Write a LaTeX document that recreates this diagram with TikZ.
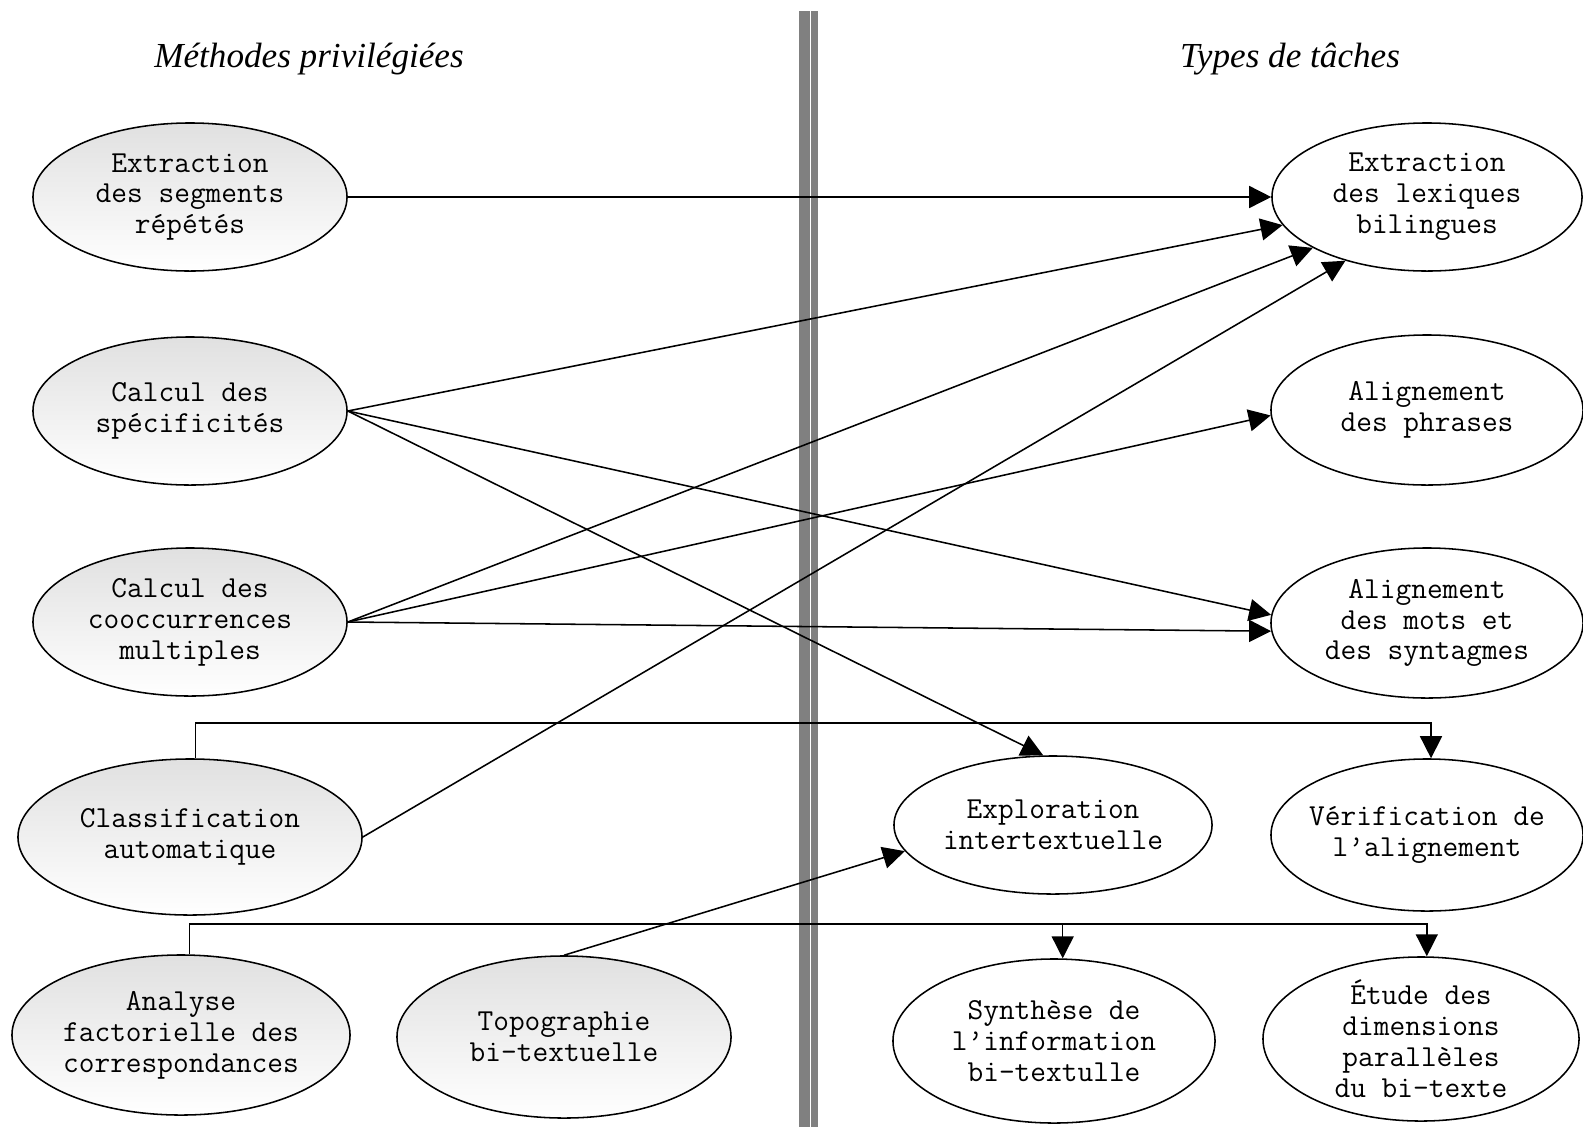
\documentclass[tikz,border=0pt]{standalone}
\usepackage{fontspec}
\setmainfont{Liberation Serif}
\usetikzlibrary{arrows.meta, shapes.geometric}

\newcommand{\monotext}{\ttfamily\fontsize{21.7pt}{22pt}\selectfont}
\newcommand{\titretext}{\itshape\fontsize{25pt}{30pt}\selectfont}
\definecolor{divgris}{RGB}{128,128,128}

\begin{document}
\begin{tikzpicture}[
		x=0.025cm, y=-0.025cm,
		>={Triangle[length=0.55cm, width=0.55cm]},
		methode/.style={ellipse, draw, line width=1.1pt, top color=black!12, bottom color=white, align=center, inner sep=0pt, font=\monotext},
		tache/.style={ellipse, draw, line width=1.1pt, fill=white, align=center, inner sep=0pt, font=\monotext},
		titre/.style={font=\titretext},
		fleche/.style={->, line width=1.1pt}
		]
		\useasboundingbox (0,0) rectangle (1583,1127);
		
		% Separation bar
		\fill[divgris] (799,11) rectangle (809.5,1127);
		\fill[divgris] (811,11) rectangle (817.5,1127);
		
		% Titles
		\node[titre] (titreM) at (309,59) {Méthodes privilégiées};
		\node[titre] (titreT) at (1290,59) {Types de tâches};
		
		% Methods (left)
		\node[methode, minimum width=7.85cm, minimum height=3.7cm] (seg) at (190,197) {Extraction\\des segments\\répétés};
		\node[methode, minimum width=7.85cm, minimum height=3.7cm] (spec) at (190,411) {Calcul des\\spécificités};
		\node[methode, minimum width=7.85cm, minimum height=3.7cm] (cooc) at (190,622) {Calcul des\\cooccurrences\\multiples};
		\node[methode, minimum width=8.6cm, minimum height=3.9cm] (classif) at (190,837) {Classification\\automatique};
		\node[methode, minimum width=8.45cm, minimum height=4cm, inner xsep=-1pt] (afc) at (181,1035) {Analyse\\factorielle des\\correspondances};
		\node[methode, minimum width=8.35cm, minimum height=4.05cm] (topo) at (564,1037) {Topographie\\bi-textuelle};
		
		% Tasks (right)
		\node[tache, minimum width=7.75cm, minimum height=3.7cm] (lex) at (1427,197) {Extraction\\des lexiques\\bilingues};
		\node[tache, minimum width=7.8cm, minimum height=3.75cm] (phr) at (1427,410) {Alignement\\des phrases};
		\node[tache, minimum width=7.8cm, minimum height=3.75cm] (mots) at (1427,623) {Alignement\\des mots et\\des syntagmes};
		\node[tache, minimum width=7.8cm, minimum height=3.8cm, inner xsep=-7pt] (verif) at (1427,835) {Vérification de\\l’alignement};
		\node[tache, minimum width=7.95cm, minimum height=3.45cm] (expl) at (1053,825) {Exploration\\intertextuelle};
		\node[tache, minimum width=8.05cm, minimum height=4.1cm] (synth) at (1054,1041) {Synthèse de\\l’information\\bi-textulle};
		\node[tache, minimum width=7.9cm, minimum height=4.1cm, inner ysep=-1pt] (etude) at (1421,1039) {Étude des\\dimensions\\parallèles\\du bi-texte};
		
		% Straight arrows
		\draw[fleche] (seg.east) -- (lex.west);
		\draw[fleche] (spec.east) -- (lex.191);
		\draw[fleche] (spec.east) -- (mots.177);
		\draw[fleche] (spec.east) -- (expl.98);
		\draw[fleche] (cooc.east) -- (lex.204);
		\draw[fleche] (cooc.east) -- (phr.182);
		\draw[fleche] (cooc.east) -- (mots.183);
		\draw[fleche] (classif.east) -- (lex.218);
		\draw[fleche] (topo.north) -- (expl.190);
		
		% Elbow arrows along the two buses
		\coordinate (busA) at (0,723);
		\coordinate (busB) at (0,924);
		\draw[fleche] (classif.86) -- (classif.86 |- busA) -| (verif.87);
		\draw[fleche] (afc.84) -- (afc.84 |- busB) -| (etude.86);
		\draw[fleche] (synth.84 |- busB) -- (synth.84);
		
	\end{tikzpicture}
\end{document}
